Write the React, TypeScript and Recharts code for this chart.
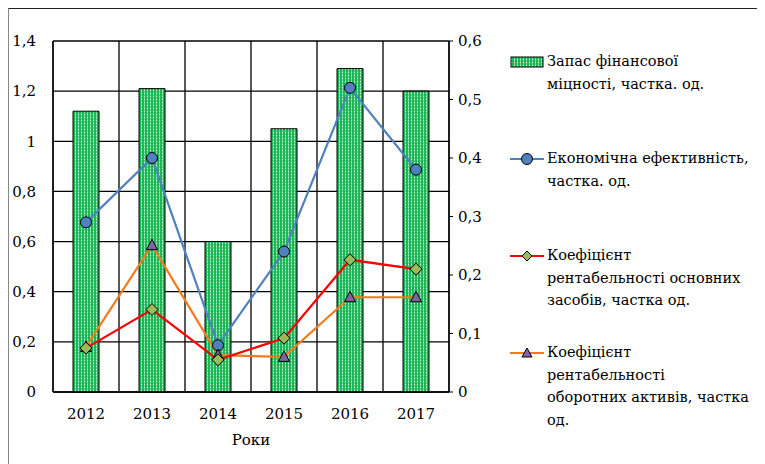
import React from 'react';
import {
  ComposedChart,
  Bar,
  Line,
  XAxis,
  YAxis,
  CartesianGrid,
} from 'recharts';

const years = ['2012', '2013', '2014', '2015', '2016', '2017'];
const financialStrength = [1.12, 1.21, 0.6, 1.05, 1.29, 1.2];
const economicEfficiency = [0.29, 0.4, 0.08, 0.24, 0.52, 0.38];
const fixedAssetsReturn = [0.075, 0.141, 0.055, 0.092, 0.226, 0.21];
const currentAssetsReturn = [0.077, 0.251, 0.063, 0.06, 0.162, 0.162];

const leftTicks = [0, 0.2, 0.4, 0.6, 0.8, 1, 1.2, 1.4];
const rightTicks = [0, 0.1, 0.2, 0.3, 0.4, 0.5, 0.6];

const seriesNames = [
  'Запас фінансової\nміцності, частка. од.',
  'Економічна ефективність,\nчастка. од.',
  'Коефіцієнт\nрентабельності основних\nзасобів, частка од.',
  'Коефіцієнт\nрентабельності\nоборотних активів, частка\nод.',
];

const data = years.map((year, i) => ({
  year,
  strength: financialStrength[i],
  efficiency: economicEfficiency[i],
  fixed: fixedAssetsReturn[i],
  current: currentAssetsReturn[i],
}));

const FONT = "'DejaVu Serif', serif";
const BLUE = '#4f81bd';
const RED = '#ff0000';
const ORANGE = '#f07c1e';
const OLIVE = '#9bbb59';
const PURPLE = '#8064a2';

const fmt = (v: number) => String(v).replace('.', ',');

const Circle = ({ cx, cy }: { cx: number; cy: number }) => (
  <circle cx={cx} cy={cy} r={5.5} fill={BLUE} stroke="#000" strokeWidth={1} />
);

const Diamond = ({ cx, cy }: { cx: number; cy: number }) => (
  <polygon
    points={`${cx},${cy - 6} ${cx + 6},${cy} ${cx},${cy + 6} ${cx - 6},${cy}`}
    fill={OLIVE}
    stroke="#000"
    strokeWidth={1}
  />
);

const Triangle = ({ cx, cy }: { cx: number; cy: number }) => (
  <polygon
    points={`${cx},${cy - 6} ${cx + 5.5},${cy + 4.5} ${cx - 5.5},${cy + 4.5}`}
    fill={PURPLE}
    stroke="#000"
    strokeWidth={1}
  />
);

const legendItems = [
  { kind: 'bar', color: '' },
  { kind: 'circle', color: BLUE },
  { kind: 'diamond', color: RED },
  { kind: 'triangle', color: ORANGE },
];

const LegendIcon = ({ kind, color }: { kind: string; color: string }) => (
  <svg width={34} height={14} style={{ position: 'absolute', left: 0, top: 5 }}>
    {kind === 'bar' ? (
      <rect x={1} y={2} width={32} height={10} fill="url(#greenDots)" stroke="#000" strokeWidth={1} />
    ) : (
      <>
        <line x1={0} y1={7} x2={34} y2={7} stroke={color} strokeWidth={2} />
        {kind === 'circle' && <Circle cx={17} cy={7} />}
        {kind === 'diamond' && (
          <polygon points="17,2 22,7 17,12 12,7" fill={OLIVE} stroke="#000" strokeWidth={1} />
        )}
        {kind === 'triangle' && (
          <polygon points="17,2 22,11 12,11" fill={PURPLE} stroke="#000" strokeWidth={1} />
        )}
      </>
    )}
  </svg>
);

const gridX = ({ offset }: any) => {
  const step = offset.width / years.length;
  return years.map((_, i) => offset.left + step * i).concat(offset.left + offset.width);
};

const tickStyle = { fill: '#000', fontSize: 15, fontFamily: FONT };

export default function App() {
  return (
    <div style={{ position: 'relative', width: 757, height: 456, fontFamily: FONT }}>
      <svg width={0} height={0} style={{ position: 'absolute' }}>
        <defs>
          <pattern id="greenDots" width={3} height={3} patternUnits="userSpaceOnUse">
            <rect width={3} height={3} fill="#1fb658" />
            <rect x={1} y={0} width={1} height={3} fill="#62d68e" />
            <rect x={1} y={1} width={1} height={1} fill="#cdf7db" />
          </pattern>
        </defs>
      </svg>
      <div
        style={{
          position: 'absolute',
          left: 0,
          top: 0,
          width: 757,
          height: 456,
          borderTop: '1px solid #222',
          borderLeft: '1px solid #888',
          boxSizing: 'border-box',
        }}
      />
      <ComposedChart
        width={757}
        height={456}
        data={data}
        margin={{ top: 33, right: 276, bottom: 16, left: 0 }}
        style={{ fontFamily: FONT }}
      >
        <CartesianGrid
          stroke="#000"
          strokeWidth={1.3}
          yAxisId="left"
          verticalCoordinatesGenerator={gridX}
        />
        <XAxis
          dataKey="year"
          height={56}
          axisLine={{ stroke: '#000', strokeWidth: 1.3 }}
          tickLine={false}
          tickMargin={10}
          tick={tickStyle}
          label={{ value: 'Роки', position: 'insideBottom', offset: 3, ...tickStyle }}
        />
        <YAxis
          yAxisId="left"
          width={45}
          domain={[0, 1.4]}
          ticks={leftTicks}
          tickFormatter={fmt}
          axisLine={{ stroke: '#000', strokeWidth: 1.3 }}
          tickLine={false}
          tickMargin={11}
          tick={tickStyle}
        />
        <YAxis
          yAxisId="right"
          orientation="right"
          width={40}
          domain={[0, 0.6]}
          ticks={rightTicks}
          tickFormatter={fmt}
          axisLine={{ stroke: '#000', strokeWidth: 1.3 }}
          tickLine={{ stroke: '#000' }}
          tickSize={4}
          tickMargin={5}
          tick={tickStyle}
        />
        <Bar
          yAxisId="left"
          dataKey="strength"
          name={seriesNames[0]}
          barSize={26}
          fill="url(#greenDots)"
          stroke="#000"
          strokeWidth={1}
          isAnimationActive={false}
        />
        <Line
          yAxisId="right"
          dataKey="efficiency"
          name={seriesNames[1]}
          stroke={BLUE}
          strokeWidth={2.2}
          dot={(p: any) => <Circle key={`c-${p.index}`} cx={p.cx} cy={p.cy} />}
          activeDot={false}
          isAnimationActive={false}
        />
        <Line
          yAxisId="right"
          dataKey="current"
          name={seriesNames[3]}
          stroke={ORANGE}
          strokeWidth={2.2}
          dot={(p: any) => <Triangle key={`t-${p.index}`} cx={p.cx} cy={p.cy} />}
          activeDot={false}
          isAnimationActive={false}
        />
        <Line
          yAxisId="right"
          dataKey="fixed"
          name={seriesNames[2]}
          stroke={RED}
          strokeWidth={2.2}
          dot={(p: any) => <Diamond key={`d-${p.index}`} cx={p.cx} cy={p.cy} />}
          activeDot={false}
          isAnimationActive={false}
        />
      </ComposedChart>
      <div style={{ position: 'absolute', left: 502, top: 42, width: 255 }}>
        {legendItems.map((item, i) => (
          <div key={i} style={{ position: 'relative', height: 97, paddingLeft: 37 }}>
            <LegendIcon kind={item.kind} color={item.color} />
            <div style={{ whiteSpace: 'pre-line', fontSize: 14.5, lineHeight: '22.5px', color: '#000' }}>
              {seriesNames[i]}
            </div>
          </div>
        ))}
      </div>
    </div>
  );
}
